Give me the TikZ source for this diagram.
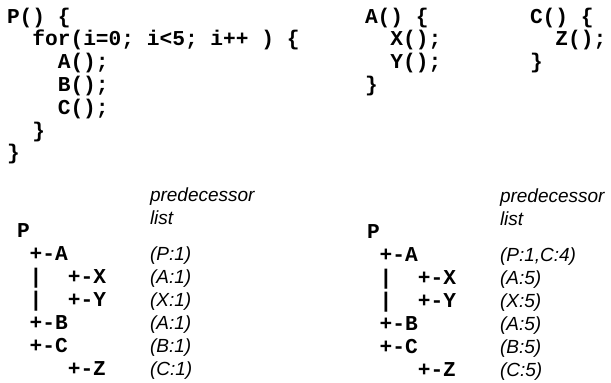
\documentclass[tikz,border=0pt]{standalone}
\usepackage{fontspec}
\setmonofont{Liberation Mono}
\setsansfont{Liberation Sans}
\newcommand{\codefont}{\ttfamily\bfseries\fontsize{21.2pt}{23pt}\selectfont\frenchspacing}
\newcommand{\labfont}{\sffamily\itshape\fontsize{19pt}{22pt}\selectfont}
\tikzset{
  code/.style={anchor=base west, inner sep=0pt, outer sep=0pt, font=\codefont},
  lab/.style={anchor=base west, inner sep=0pt, outer sep=0pt, font=\labfont}
}
\begin{document}
\begin{tikzpicture}[x=1pt,y=1pt]
\useasboundingbox (0,0) rectangle (611,-383);
% left code
\node[code] (p1) at (7,-23) {P()~\{};
\node[code] (p2) at (32.4,-45.8) {for(i=0;~i<5;~i++~)~\{};
\node[code] (p3) at (57.8,-68.6) {A();};
\node[code] (p4) at (57.8,-91.4) {B();};
\node[code] (p5) at (57.8,-114.2) {C();};
\node[code] (p6) at (32.4,-137) {\}};
\node[code] (p7) at (7,-159.8) {\}};
% A code
\node[code] (a1) at (365,-23) {A()~\{};
\node[code] (a2) at (390.4,-45.8) {X();};
\node[code] (a3) at (390.4,-68.6) {Y();};
\node[code] (a4) at (365,-91.4) {\}};
% C code
\node[code] (cc1) at (530,-23) {C()~\{};
\node[code] (cc2) at (555.4,-45.8) {Z();};
\node[code] (cc3) at (530,-68.6) {\}};
% left tree
\node[code] (lt0) at (17,-237) {P};
\node[code] (lt1) at (29.7,-260) {+-A};
\node[code] (lt2) at (29.7,-283) {|~~+-X};
\node[code] (lt3) at (29.7,-306) {|~~+-Y};
\node[code] (lt4) at (29.7,-329) {+-B};
\node[code] (lt5) at (29.7,-352) {+-C};
\node[code] (lt6) at (67.8,-375) {+-Z};
% left labels
\node[lab] (lh1) at (150,-201) {predecessor};
\node[lab] (lh2) at (150,-224) {list};
\node[lab] (ll1) at (150,-260) {(P:1)};
\node[lab] (ll2) at (150,-283) {(A:1)};
\node[lab] (ll3) at (150,-306) {(X:1)};
\node[lab] (ll4) at (150,-329) {(A:1)};
\node[lab] (ll5) at (150,-352) {(B:1)};
\node[lab] (ll6) at (150,-375) {(C:1)};
% right tree
\node[code] (rt0) at (367,-238) {P};
\node[code] (rt1) at (379.7,-261) {+-A};
\node[code] (rt2) at (379.7,-284) {|~~+-X};
\node[code] (rt3) at (379.7,-307) {|~~+-Y};
\node[code] (rt4) at (379.7,-330) {+-B};
\node[code] (rt5) at (379.7,-353) {+-C};
\node[code] (rt6) at (417.8,-376) {+-Z};
% right labels
\node[lab] (rh1) at (500,-202) {predecessor};
\node[lab] (rh2) at (500,-225) {list};
\node[lab] (rl1) at (500,-261) {(P:1,C:4)};
\node[lab] (rl2) at (500,-284) {(A:5)};
\node[lab] (rl3) at (500,-307) {(X:5)};
\node[lab] (rl4) at (500,-330) {(A:5)};
\node[lab] (rl5) at (500,-353) {(B:5)};
\node[lab] (rl6) at (500,-376) {(C:5)};
\end{tikzpicture}
\end{document}
